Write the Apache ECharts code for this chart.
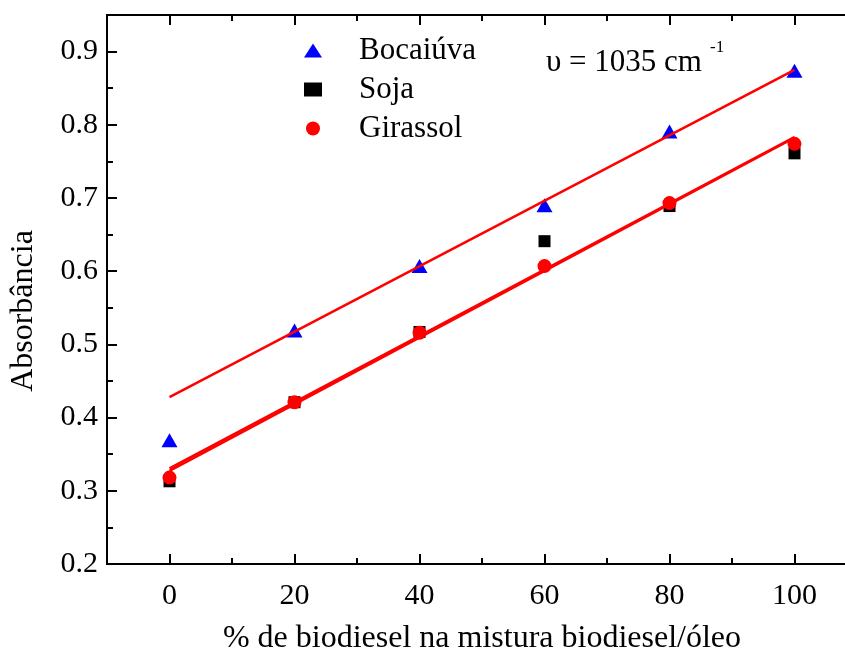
<!DOCTYPE html>
<html>
<head>
<meta charset="utf-8">
<script src="https://cdn.jsdelivr.net/npm/echarts@6/dist/echarts.min.js"></script>
<style>
  html, body { margin: 0; padding: 0; background: #fff; }
  #chart { width: 845px; height: 658px; }
</style>
</head>
<body>
<div id="chart"></div>
<script>
// Biodiesel content (%) in the biodiesel/oil blend
const blendPercent = [0, 20, 40, 60, 80, 100];

// Absorbance at 1035 cm-1
const bocaiuva = [0.369, 0.519, 0.607, 0.690, 0.791, 0.874];
const soja     = [0.313, 0.421, 0.517, 0.641, 0.689, 0.761];
const girassol = [0.318, 0.421, 0.516, 0.607, 0.693, 0.774];

// Bocaiúva regression leaves out the pure-oil point (first sample)
const bocaiuvaFitStart = 1;

// Axis tick values
const xMajorTicks = [0, 20, 40, 60, 80, 100];
const xMinorTicks = [10, 30, 50, 70, 90];
const yMajorTicks = [0.2, 0.3, 0.4, 0.5, 0.6, 0.7, 0.8, 0.9];
const yMinorTicks = [0.25, 0.35, 0.45, 0.55, 0.65, 0.75, 0.85];

const FONT = 'Liberation Serif';

function pairs(xs, ys) { return xs.map((x, i) => [x, ys[i]]); }

// Ordinary least squares fit, drawn across the full blend range
function fitLine(xs, ys, start) {
  const X = xs.slice(start), Y = ys.slice(start);
  const n = X.length;
  const mx = X.reduce((a, b) => a + b, 0) / n;
  const my = Y.reduce((a, b) => a + b, 0) / n;
  let sxy = 0, sxx = 0;
  for (let i = 0; i < n; i++) { sxy += (X[i] - mx) * (Y[i] - my); sxx += (X[i] - mx) ** 2; }
  const slope = sxy / sxx, icpt = my - slope * mx;
  const x0 = xs[0], x1 = xs[xs.length - 1];
  return [[x0, icpt + slope * x0], [x1, icpt + slope * x1]];
}

const axisLineStyle = { color: '#000', width: 2 };

function xAxisDef(pos, ticks, len, labels) {
  return {
    type: 'value', position: pos, min: -10, max: 110, interval: 10,
    axisLine: { show: true, onZero: false, lineStyle: axisLineStyle },
    axisTick: { show: true, inside: true, length: len, customValues: ticks, lineStyle: { color: '#000', width: 2 } },
    axisLabel: labels
      ? { show: true, customValues: xMajorTicks, color: '#000', fontSize: 30, fontFamily: FONT, margin: 17 }
      : { show: false },
    splitLine: { show: false }
  };
}
function yAxisDef(pos, ticks, len, labels) {
  return {
    type: 'value', position: pos, min: 0.2, max: 0.95, interval: 0.05,
    axisLine: { show: true, onZero: false, lineStyle: axisLineStyle },
    axisTick: { show: true, inside: true, length: len, customValues: ticks, lineStyle: { color: '#000', width: 2 } },
    axisLabel: labels
      ? { show: true, customValues: yMajorTicks, color: '#000', fontSize: 30, fontFamily: FONT, margin: 9,
          formatter: v => v.toFixed(1) }
      : { show: false },
    splitLine: { show: false }
  };
}

const xMain = xAxisDef('bottom', xMajorTicks, 10, true);
xMain.name = '% de biodiesel na mistura biodiesel/óleo';
xMain.nameLocation = 'middle';
xMain.nameGap = 59;
xMain.nameTextStyle = { color: '#000', fontSize: 32, fontFamily: FONT };

const chart = echarts.init(document.getElementById('chart'), null, { renderer: 'canvas' });

chart.setOption({
  backgroundColor: '#fff',
  animation: false,
  textStyle: { fontFamily: FONT, color: '#000' },
  grid: { left: 107, top: 15, width: 750, height: 549, outerBoundsMode: 'none', containLabel: false },
  xAxis: [
    xMain,
    xAxisDef('bottom', xMinorTicks, 6, false),
    xAxisDef('top', xMajorTicks, 10, false),
    xAxisDef('top', xMinorTicks, 6, false)
  ],
  yAxis: [
    yAxisDef('left', yMajorTicks, 10, true),
    yAxisDef('left', yMinorTicks, 6, false)
  ],
  legend: {
    orient: 'vertical', left: 299, top: 30,
    itemWidth: 18, itemHeight: 14, itemGap: 8,
    formatter: name => '{t|' + name + '}',
    textStyle: {
      color: '#000', fontSize: 31, fontFamily: FONT, lineHeight: 30, padding: [0, 0, 0, 32],
      rich: { t: { color: '#000', fontSize: 31, fontFamily: FONT, lineHeight: 30 } }
    },
    data: ['Bocaiúva', 'Soja', 'Girassol']
  },
  series: [
    { name: 'Bocaiúva', type: 'scatter', data: pairs(blendPercent, bocaiuva),
      symbol: 'triangle', symbolSize: [16, 14], itemStyle: { color: '#0000ff', opacity: 1 }, z: 2 },
    { name: 'Soja', type: 'scatter', data: pairs(blendPercent, soja),
      symbol: 'rect', symbolSize: 12, itemStyle: { color: '#000', opacity: 1 }, z: 3 },
    { name: 'Girassol', type: 'scatter', data: pairs(blendPercent, girassol),
      symbol: 'circle', symbolSize: 14, itemStyle: { color: '#ff0000', opacity: 1 }, z: 4 },
    { name: 'fit-bocaiuva', type: 'line', data: fitLine(blendPercent, bocaiuva, bocaiuvaFitStart),
      showSymbol: false, lineStyle: { color: '#ff0000', width: 2.5 }, z: 5 },
    { name: 'fit-soja', type: 'line', data: fitLine(blendPercent, soja, 0),
      showSymbol: false, lineStyle: { color: '#ff0000', width: 2.5 }, z: 5 },
    { name: 'fit-girassol', type: 'line', data: fitLine(blendPercent, girassol, 0),
      showSymbol: false, lineStyle: { color: '#ff0000', width: 2.5 }, z: 5 }
  ],
  graphic: [
    { type: 'text', x: 24, y: 311, rotation: Math.PI / 2,
      style: { text: 'Absorbância', fill: '#000', font: '32px "Liberation Serif"', align: 'center', verticalAlign: 'middle' } },
    { type: 'text', x: 546, y: 63,
      style: { text: 'υ = 1035 cm', fill: '#000', font: '31px "Liberation Serif"', align: 'left', verticalAlign: 'middle' } },
    { type: 'text', x: 710, y: 48,
      style: { text: '-1', fill: '#000', font: '17px "Liberation Serif"', align: 'left', verticalAlign: 'middle' } }
  ]
});
</script>
</body>
</html>
